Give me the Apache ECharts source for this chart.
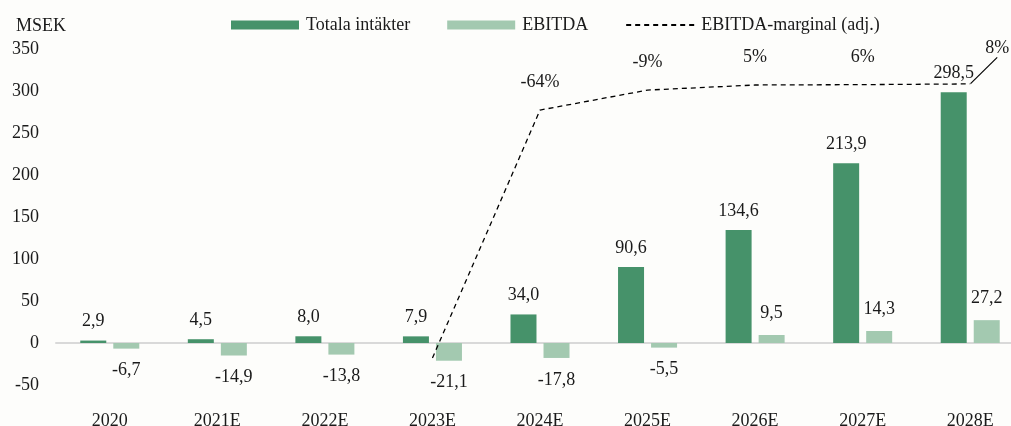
<!DOCTYPE html>
<html>
<head>
<meta charset="utf-8">
<script src="https://cdn.jsdelivr.net/npm/echarts@6/dist/echarts.min.js"></script>
<style>
html, body { margin: 0; padding: 0; background: #fdfdfb; }
#chart { width: 1011px; height: 426px; }
</style>
</head>
<body>
<div id="chart"></div>
<script>
const years = ['2020', '2021E', '2022E', '2023E', '2024E', '2025E', '2026E', '2027E', '2028E'];
const revenue = [2.9, 4.5, 8.0, 7.9, 34.0, 90.6, 134.6, 213.9, 298.5];
const ebitda = [-6.7, -14.9, -13.8, -21.1, -17.8, -5.5, 9.5, 14.3, 27.2];
// margin in %, first three years have no line
const margin = [null, null, null, -746, -64, -9, 5, 6, 8];

const font = 'Liberation Serif, Times New Roman, serif';
const txt = '#1a1a1a';
const fmt = v => v.toFixed(1).replace('.', ',');

const chart = echarts.init(document.getElementById('chart'));
chart.setOption({
  backgroundColor: '#fdfdfb',
  animation: false,
  title: {
    text: 'MSEK', left: 11, top: 12,
    textStyle: { fontFamily: font, fontSize: 18, fontWeight: 'normal', color: txt }
  },
  legend: {
    left: 226, top: 11,
    itemWidth: 68, itemHeight: 9, itemGap: 37,
    textStyle: { fontFamily: font, fontSize: 18, color: txt, padding: [0, 0, 0, 2] },
    data: [
      { name: 'Totala intäkter', icon: 'rect' },
      { name: 'EBITDA', icon: 'rect' },
      { name: 'EBITDA-marginal (adj.)' }
    ]
  },
  // plot runs past the right edge of the picture
  grid: { left: 56, width: 968, top: 49, bottom: 41, outerBoundsMode: 'none' },
  xAxis: [
    {
      type: 'category', data: years,
      axisLine: { onZero: false, show: false },
      axisTick: { show: false },
      axisLabel: { fontFamily: font, fontSize: 18, color: txt, margin: 27 }
    },
    {
      type: 'category', data: years,
      axisLine: { onZero: true, lineStyle: { color: '#d9d9d9', width: 2 } },
      axisTick: { show: false },
      axisLabel: { show: false }
    }
  ],
  yAxis: [
    {
      type: 'value', min: -50, max: 350, interval: 50,
      splitLine: { show: false },
      axisLabel: { fontFamily: font, fontSize: 18, color: txt, margin: 17 }
    },
    { type: 'value', min: -820, max: 104, show: false, splitLine: { show: false } }
  ],
  series: [
    {
      name: 'Totala intäkter', type: 'bar', data: revenue,
      barWidth: 26, barGap: '27%',
      itemStyle: { color: '#46926a' },
      label: {
        show: true, position: 'outside', distance: 10,
        fontFamily: font, fontSize: 18, color: txt,
        formatter: p => fmt(p.value)
      }
    },
    {
      name: 'EBITDA', type: 'bar', data: ebitda,
      barWidth: 26,
      itemStyle: { color: '#a3c9b0' },
      label: {
        show: true, position: 'outside', distance: 13,
        fontFamily: font, fontSize: 18, color: txt,
        formatter: p => fmt(p.value)
      }
    },
    {
      name: 'EBITDA-marginal (adj.)', type: 'line', yAxisIndex: 1,
      data: margin.map((v, i) => {
        if (i === 3) return { value: v, label: { show: false } };
        if (i === 8) return { value: v, labelLine: { show: true, lineStyle: { color: '#000', width: 1.2 } } };
        return v;
      }),
      symbol: 'circle', symbolSize: 1,
      itemStyle: { color: 'rgba(0,0,0,0)' },
      lineStyle: { color: '#000', width: 1.3, type: [5, 4] },
      label: {
        show: true, position: 'top', distance: 18,
        fontFamily: font, fontSize: 18, color: txt,
        formatter: p => p.value + '%'
      },
      labelLayout: p => (p.dataIndex === 8 ? { dx: 27, dy: -8 } : {})
    }
  ]
});
</script>
</body>
</html>
